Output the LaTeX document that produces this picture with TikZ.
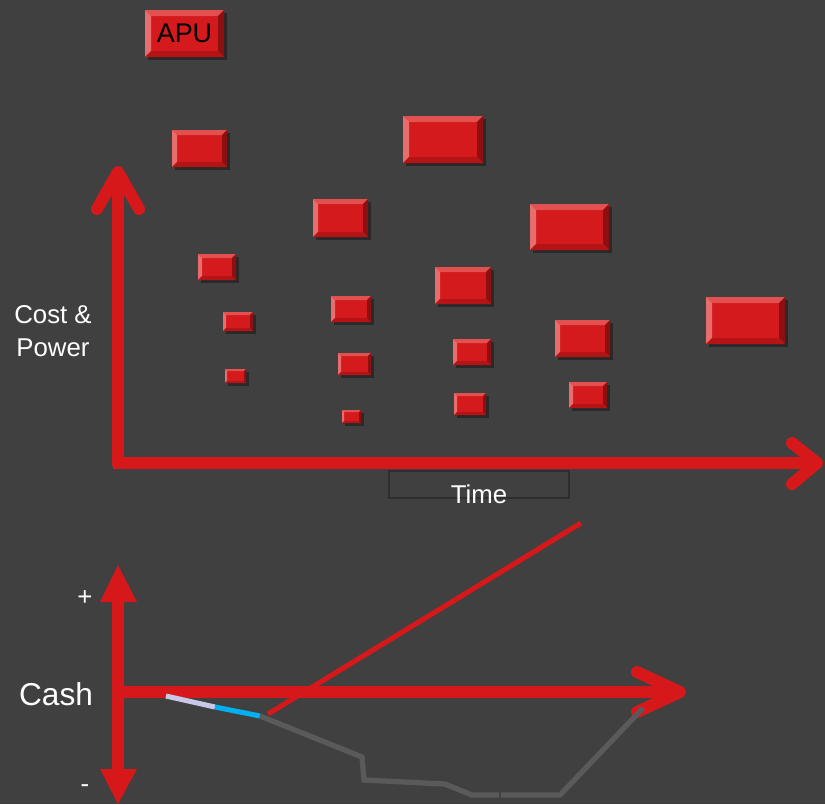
\documentclass[tikz,border=0pt]{standalone}
\usepackage{fontspec}
\setmainfont{Liberation Sans}
\definecolor{bg}{RGB}{64,64,64}
\definecolor{redmain}{RGB}{212,26,28}
\definecolor{redtop}{RGB}{226,80,80}
\definecolor{redleft}{RGB}{232,110,110}
\definecolor{redright}{RGB}{140,16,16}
\definecolor{redbottom}{RGB}{180,20,22}
\definecolor{axisred}{RGB}{214,24,26}
\definecolor{greyline}{RGB}{90,90,90}
\definecolor{lavender}{RGB}{200,200,232}
\definecolor{skyblue}{RGB}{0,176,240}
\definecolor{boxline}{RGB}{46,46,46}
\newcommand{\bevbox}[7]{%
  \fill[black,opacity=0.35] (#2+3,#3+3) rectangle (#4+3,#5+3);
  \fill[redmain] (#2,#3) rectangle (#4,#5);
  \fill[redtop] (#2,#3) -- (#4,#3) -- (#4-#6,#3+#6) -- (#2+#6,#3+#6) -- cycle;
  \fill[redleft] (#2,#3) -- (#2+#6,#3+#6) -- (#2+#6,#5-#6) -- (#2,#5) -- cycle;
  \fill[redright] (#4,#3) -- (#4,#5) -- (#4-#6,#5-#6) -- (#4-#6,#3+#6) -- cycle;
  \fill[redbottom] (#2,#5) -- (#4,#5) -- (#4-#6,#5-#6) -- (#2+#6,#5-#6) -- cycle;
  \node[inner sep=0pt] (#1) at ({(#2+#4)/2},{(#3+#5)/2}) {#7};
}
\tikzset{
  axis/.style={draw=axisred,line width=10.2pt},
  chevron/.style={draw=axisred,line width=10.2pt,line cap=round,line join=round},
  lbl/.style={text=white,font=\fontsize{22}{28}\selectfont,align=center},
}
\begin{document}
\begin{tikzpicture}[x=0.03cm,y=-0.03cm]
\fill[bg] (0,0) rectangle (825,804);
\useasboundingbox (0,0) rectangle (825,804);
% boxes
\bevbox{apu}{145}{10}{224}{57}{6}{\color{black}\fontsize{23}{28}\selectfont APU}
\bevbox{b2}{172}{130}{227}{167}{5}{}
\bevbox{b3}{403}{116}{483}{163}{6}{}
\bevbox{b4}{313}{199}{368}{237}{5}{}
\bevbox{b5}{530}{204}{609}{250}{6}{}
\bevbox{b6}{198}{254}{236}{280}{4}{}
\bevbox{b7}{435}{267}{491}{304}{5}{}
\bevbox{b8}{706}{297}{785}{344}{6}{}
\bevbox{b9}{223}{312}{253}{331}{3}{}
\bevbox{b10}{331}{296}{371}{322}{4}{}
\bevbox{b11}{555}{320}{610}{357}{5}{}
\bevbox{b12}{338}{353}{371}{375}{3}{}
\bevbox{b13}{453}{339}{491}{365}{4}{}
\bevbox{b14}{225}{369}{246}{383}{2}{}
\bevbox{b15}{569}{382}{607}{408}{4}{}
\bevbox{b16}{342}{410}{361}{423}{2}{}
\bevbox{b17}{454}{393}{486}{415}{3}{}
% upper axes
\coordinate (o1) at (118,466);
\coordinate (ytip) at (118,172);
\coordinate (ya1) at (97,209);
\coordinate (ya2) at (139,209);
\coordinate (xo) at (113,463);
\coordinate (xtip) at (817,463);
\coordinate (xa1) at (792,443);
\coordinate (xa2) at (792,484);
\draw[axis] (o1) -- (ytip);
\draw[chevron] (ya1) -- (ytip) -- (ya2);
\draw[axis] (xo) -- (xtip);
\draw[chevron] (xa1) -- (xtip) -- (xa2);
\node[draw=boxline,line width=1.7pt,minimum width=180*0.03cm,minimum height=27*0.03cm,inner sep=0pt] (timebox) at (479,484.5) {};
\node[lbl] (time) at (479,494) {Time};
\node[lbl] (cp) at (53,331) {Cost \&\\Power};
% lower chart
\coordinate (c0) at (118,692);
\coordinate (ctop) at (118,600);
\coordinate (cbot) at (118,771);
\draw[axis] (ctop) -- (cbot);
\fill[axisred] (118,565) -- (100,602) -- (137,602) -- cycle;
\fill[axisred] (118,804) -- (100,769) -- (137,769) -- cycle;
\coordinate (ctip) at (680,692);
\coordinate (ca1) at (637,672);
\coordinate (ca2) at (637,712);
\draw[axis] (c0) -- (ctip);
\draw[chevron] (ca1) -- (ctip) -- (ca2);
\node[lbl,font=\fontsize{22}{24}\selectfont] (plus) at (85,598) {+};
\node[lbl,font=\fontsize{22}{24}\selectfont] (minus) at (85,789) {-};
\node[lbl,font=\fontsize{27}{32}\selectfont] (cash) at (56,694) {Cash};
% lines
\coordinate (r1) at (268,714);
\coordinate (r2) at (581,523);
\draw[axisred,line width=4.3pt] (r1) -- (r2);
\coordinate (p1) at (166,696);
\coordinate (p2) at (215,707);
\coordinate (p3) at (260,716);
\draw[lavender,line width=4.3pt] (p1) -- (p2);
\draw[skyblue,line width=4.3pt] (p2) -- (p3);
\draw[greyline,line width=4.5pt,line join=miter] (p3) -- (362,757) -- (364,780) -- (445,784) -- (472,795) -- (499,795);
\draw[greyline,line width=4.5pt,line join=miter] (501,795) -- (560,795) -- (643,708);
\end{tikzpicture}
\end{document}
